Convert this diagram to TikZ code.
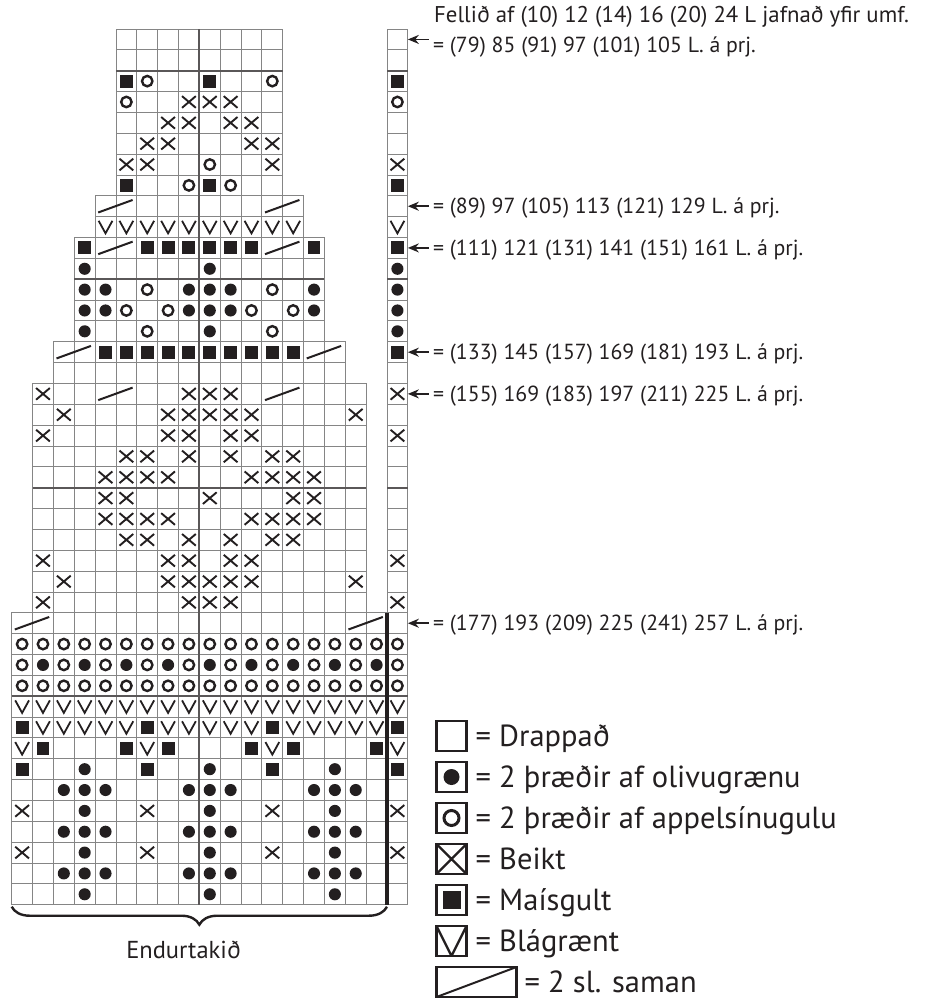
\documentclass[tikz,border=0pt]{standalone}
\usepackage{fontspec}
\setmainfont{PT Sans}
\usepackage{tikz}
\usetikzlibrary{arrows.meta,positioning,calc,decorations.pathreplacing}
\definecolor{chartInk}{HTML}{231F20}
\definecolor{chartGrid}{HTML}{858585}
\tikzset{
  cell/.style={draw=chartGrid, line width=0.9pt},
  heavy/.style={draw=chartInk!75, line width=1.8pt},
  repline/.style={draw=chartInk, line width=3.6pt},
  sidelbl/.style={font=\fontsize{21.8}{26}\selectfont, text=chartInk, inner sep=1pt, text height=15.3pt, text depth=0pt},
  sidearrow/.style={-{Stealth[length=11pt,width=9pt]}, line width=1.6pt, draw=chartInk, shorten <=3pt},
  legbox/.style={rectangle, draw=chartInk, line width=2.4pt, minimum size=30pt, inner sep=0pt, outer sep=0pt},
  legtxt/.style={font=\fontsize{30.5}{36}\selectfont, text=chartInk, inner sep=1pt, text height=21pt, text depth=0pt, anchor=west},
  reptxt/.style={font=\fontsize{24.5}{30}\selectfont, text=chartInk},
  repbrace/.style={decorate, decoration={brace, mirror, amplitude=18pt}, line width=2.4pt, draw=chartInk},
  legdot/.style={path picture={\fill[chartInk] (path picture bounding box.center) circle (8pt);}},
  legring/.style={path picture={\draw[chartInk, line width=3pt] (path picture bounding box.center) circle (7.5pt);}},
  legxx/.style={path picture={\draw[chartInk, line width=2.4pt] (path picture bounding box.south west) -- (path picture bounding box.north east) (path picture bounding box.north west) -- (path picture bounding box.south east);}},
  legblk/.style={path picture={\fill[chartInk, shift={(path picture bounding box.center)}] (-9pt,-9pt) rectangle (9pt,9pt);}},
  legvee/.style={path picture={\draw[chartInk, line width=2.4pt] (path picture bounding box.north west) -- (path picture bounding box.south) -- (path picture bounding box.north east);}},
  legtog/.style={path picture={\draw[chartInk, line width=2pt] (path picture bounding box.south west) -- (path picture bounding box.north east);}},
  pics/blk/.style={code={\fill[chartInk] (-0.31,-0.31) rectangle (0.31,0.31);}},
  pics/dot/.style={code={\fill[chartInk] (0,0) circle (0.29);}},
  pics/ring/.style={code={\draw[chartInk, line width=2.4pt] (0,0) circle (0.25);}},
  pics/xx/.style={code={\draw[chartInk, line width=1.9pt] (-0.33,-0.28) -- (0.33,0.28) (-0.33,0.28) -- (0.33,-0.28);}},
  pics/vee/.style={code={\draw[chartInk, line width=1.8pt] (-0.33,-0.3) -- (0,0.3) -- (0.33,-0.3);}},
  pics/twotog/.style={code={\draw[chartInk, line width=2pt] (-0.35,0.3) -- (1.3,-0.3);}}
}

\begin{document}
\begin{tikzpicture}[x=1pt, y=-1pt]
\useasboundingbox (0,0) rectangle (927,1001);

\begin{scope}[shift={(11.7,29)}, x=20.85pt, y=-20.85pt]
% grid cells, section by section
\foreach \p/\q/\a/\b in {1/8/6/13, 9/10/5/14, 11/15/4/15, 16/17/3/16, 18/28/2/17, 29/42/1/18}
  \foreach \r in {\p,...,\q}
    \foreach \c in {\a,...,\b}
      \draw[cell] (\c-1,\r-1) rectangle (\c,\r);
\foreach \r in {1,...,42}
  \draw[cell] (18,\r-1) rectangle (19,\r);
\draw[heavy] (5,2) -- (13,2) (18,2) -- (19,2)
  (3,12) -- (15,12) (18,12) -- (19,12)
  (1,22) -- (17,22) (18,22) -- (19,22)
  (0,32) -- (19,32)
  (9,0) -- (9,42);

% upper part, row/{column/stitch}
\foreach \r/\m in {
  3/{6/blk,7/ring,10/blk,13/ring,19/blk},
  4/{6/ring,9/xx,10/xx,11/xx,19/ring},
  5/{8/xx,9/xx,11/xx,12/xx},
  6/{7/xx,8/xx,12/xx,13/xx},
  7/{6/xx,7/xx,10/ring,13/xx,19/xx},
  8/{6/blk,9/ring,10/blk,11/ring,19/blk},
  9/{5/twotog,13/twotog},
  11/{4/blk,5/twotog,7/blk,8/blk,9/blk,10/blk,11/blk,12/blk,13/twotog,15/blk,19/blk},
  12/{4/dot,10/dot,19/dot},
  13/{4/dot,5/dot,7/ring,9/dot,10/dot,11/dot,13/ring,15/dot,19/dot},
  14/{4/dot,5/dot,6/ring,8/ring,9/dot,10/dot,11/dot,12/ring,14/ring,15/dot,19/dot},
  15/{4/dot,7/ring,10/dot,13/ring,19/dot},
  16/{3/twotog,15/twotog,19/blk},
  18/{2/xx,5/twotog,9/xx,10/xx,11/xx,13/twotog,19/xx},
  19/{3/xx,8/xx,9/xx,10/xx,11/xx,12/xx,17/xx},
  20/{2/xx,8/xx,9/xx,11/xx,12/xx,19/xx},
  21/{6/xx,7/xx,9/xx,11/xx,13/xx,14/xx},
  22/{5/xx,6/xx,7/xx,8/xx,12/xx,13/xx,14/xx,15/xx},
  23/{5/xx,6/xx,10/xx,14/xx,15/xx},
  24/{5/xx,6/xx,7/xx,8/xx,12/xx,13/xx,14/xx,15/xx},
  25/{6/xx,7/xx,9/xx,11/xx,13/xx,14/xx},
  26/{2/xx,8/xx,9/xx,11/xx,12/xx,19/xx},
  27/{3/xx,8/xx,9/xx,10/xx,11/xx,12/xx,17/xx},
  28/{2/xx,9/xx,10/xx,11/xx,19/xx},
  29/{1/twotog,17/twotog}}
  \foreach \c/\s in \m
    \pic at (\c-0.5,\r-0.5) {\s};
\foreach \c in {5,...,14,19}
  \pic at (\c-0.5,9.5) {vee};
\foreach \c in {5,...,14}
  \pic at (\c-0.5,15.5) {blk};

% lower part, repeat of 6
\foreach \c in {1,...,19} {
  \pic at (\c-0.5,29.5) {ring};
  \pic at (\c-0.5,31.5) {ring};
  \pic at (\c-0.5,32.5) {vee};
}
\foreach \c in {1,3,...,19}
  \pic at (\c-0.5,30.5) {ring};
\foreach \c in {2,4,...,18}
  \pic at (\c-0.5,30.5) {dot};
\foreach \c in {1,7,13,19} {
  \pic at (\c-0.5,33.5) {blk};
  \pic at (\c-0.5,34.5) {vee};
  \pic at (\c-0.5,35.5) {blk};
  \pic at (\c-0.5,37.5) {xx};
  \pic at (\c-0.5,39.5) {xx};
}
\foreach \k in {0,6,12} {
  \foreach \c in {2,...,6}
    \pic at (\k+\c-0.5,33.5) {vee};
  \pic at (\k+1.5,34.5) {blk};
  \pic at (\k+5.5,34.5) {blk};
  \foreach \r in {36,...,42}
    \pic at (\k+3.5,\r-0.5) {dot};
  \foreach \r in {37,39,41} {
    \pic at (\k+2.5,\r-0.5) {dot};
    \pic at (\k+4.5,\r-0.5) {dot};
  }
}
\draw[repline] (18,28) -- (18,42);

\coordinate (t1) at (19,0.5);
\coordinate (t9) at (19,8.5);
\coordinate (t11) at (19,10.5);
\coordinate (t16) at (19,15.5);
\coordinate (t18) at (19,17.5);
\coordinate (t29) at (19,28.5);
\coordinate (bl) at (0,42);
\coordinate (br) at (18,42);
\end{scope}

\draw[repbrace] ([yshift=-2pt]bl) -- ([yshift=-2pt]br);
\node[reptxt] (rep) at (183.5,950) {Endurtakið};

\node[sidelbl, anchor=west, font=\fontsize{22.8}{26}\selectfont] (l0) at (433,15) {Fellið af (10) 12 (14) 16 (20) 24 L jafnað yfir umf.};
\node[sidelbl, anchor=west] (l1) at ($(t1)+(24,5.5)$) {= (79) 85 (91) 97 (101) 105 L. á prj.};
\node[sidelbl, right=24pt of t9] (l9) {= (89) 97 (105) 113 (121) 129 L. á prj.};
\node[sidelbl, right=24pt of t11] (l11) {= (111) 121 (131) 141 (151) 161 L. á prj.};
\node[sidelbl, right=24pt of t16] (l16) {= (133) 145 (157) 169 (181) 193 L. á prj.};
\node[sidelbl, right=24pt of t18] (l18) {= (155) 169 (183) 197 (211) 225 L. á prj.};
\node[sidelbl, right=24pt of t29] (l29) {= (177) 193 (209) 225 (241) 257 L. á prj.};
\draw[sidearrow] (l1.west |- t1) -- (t1);
\draw[sidearrow] (l9) -- (t9);
\draw[sidearrow] (l11) -- (t11);
\draw[sidearrow] (l16) -- (t16);
\draw[sidearrow] (l18) -- (t18);
\draw[sidearrow] (l29) -- (t29);

% key
\node[legbox] (kBeige) at (451.5,736) {};
\node[legtxt, right=8pt of kBeige] (tBeige) {= Drappað};
\node[legbox, legdot, below=11pt of kBeige] (kOlive) {};
\node[legtxt, right=8pt of kOlive] (tOlive) {= 2 þræðir af olivugrænu};
\node[legbox, legring, below=11pt of kOlive] (kOrange) {};
\node[legtxt, right=8pt of kOrange] (tOrange) {= 2 þræðir af appelsínugulu};
\node[legbox, legxx, below=11pt of kOrange] (kTan) {};
\node[legtxt, right=8pt of kTan] (tTan) {= Beikt};
\node[legbox, legblk, below=11pt of kTan] (kYellow) {};
\node[legtxt, right=8pt of kYellow] (tYellow) {= Maísgult};
\node[legbox, legvee, below=11pt of kYellow] (kTeal) {};
\node[legtxt, right=8pt of kTeal] (tTeal) {= Blágrænt};
\node[legbox, legtog, minimum width=80pt, below=11pt of kTeal.south west, anchor=north west] (kTog) {};
\node[legtxt, right=7pt of kTog] (tTog) {= 2 sl. saman};
\end{tikzpicture}
\end{document}
